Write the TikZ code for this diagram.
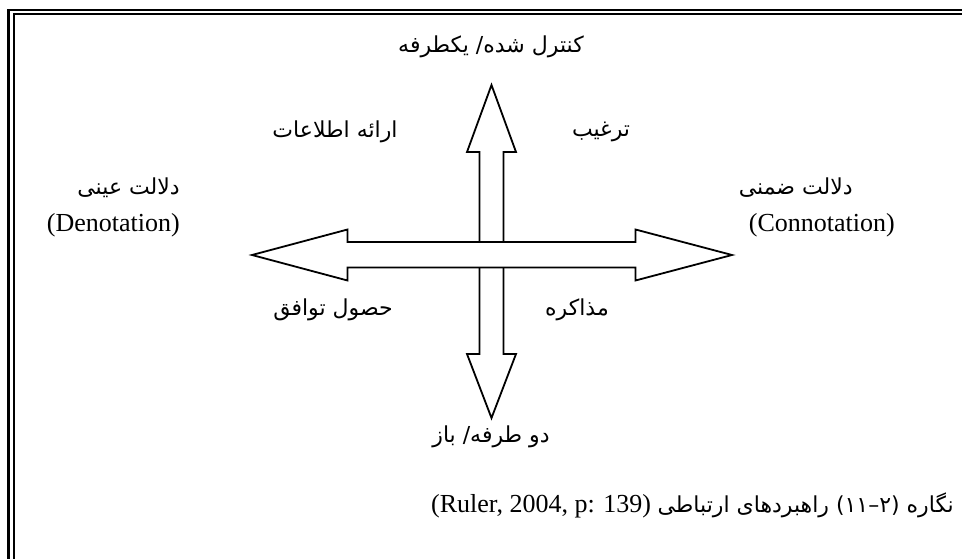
\documentclass[tikz,border=0pt]{standalone}
\usepackage{fontspec}
\setmainfont{Liberation Serif}
\newfontfamily\farsi[Script=Arabic]{DejaVu Sans}
\TeXXeTstate=1
\usetikzlibrary{positioning}

\begin{document}
\begin{tikzpicture}[x=1pt,y=-1pt,line join=miter]
  \tikzstyle{fa}=[inner sep=0pt,font=\farsi\fontsize{22}{26}\selectfont]
  \tikzstyle{lat}=[inner sep=0pt,font=\fontsize{26}{30}\selectfont]
  \tikzstyle{blockarrow}=[draw=black,line width=1.8pt,fill=white]
  \useasboundingbox (0,0) rectangle (962,559);
  % double frame, top and left
  \draw[line width=2.4pt] (8.3,559) -- (8.3,10) -- (962,10);
  \draw[line width=2pt] (14,559) -- (14,14.5) -- (962,14.5);
  % vertical arrow
  \draw[blockarrow] (491.5,85) -- (516,152) -- (503.5,152) -- (503.5,354) -- (516,354)
    -- (491.5,418) -- (467,354) -- (479.5,354) -- (479.5,152) -- (467,152) -- cycle;
  % horizontal arrow, over the vertical one
  \draw[blockarrow] (252,255) -- (347.5,229.5) -- (347.5,242) -- (635.5,242) -- (635.5,229.5)
    -- (732,255) -- (635.5,280.5) -- (635.5,267.5) -- (347.5,267.5) -- (347.5,280.5) -- cycle;
  % labels
  \node[fa] (oneway) at (491,47) {\beginR کنترل شده/ یکطرفه\endR};
  \node[fa] (twoway) at (491,437) {\beginR دو طرفه/ باز\endR};
  \node[fa] (inform) at (335,132) {\beginR ارائه اطلاعات\endR};
  \node[fa] (persuade) at (601,132) {\beginR ترغیب\endR};
  \node[fa] (agree) at (333,310) {\beginR حصول توافق\endR};
  \node[fa] (negotiate) at (577,310) {\beginR مذاکره\endR};
  \node[fa,anchor=east] (denfa) at (180,188) {\beginR دلالت عینی\endR};
  \node[lat,anchor=east] (den) at (180,225) {(Denotation)};
  \node[fa,anchor=east] (confa) at (853,188) {\beginR دلالت ضمنی\endR};
  \node[lat,anchor=east] (con) at (895,225) {(Connotation)};
  % caption
  \node[lat,anchor=east] (caption) at (954,505) {(Ruler, 2004, p: 139)
    {\farsi\fontsize{22}{26}\selectfont\beginR راهبردهای ارتباطی\endR{} (۲–۱۱) \beginR نگاره\endR}};
\end{tikzpicture}
\end{document}
